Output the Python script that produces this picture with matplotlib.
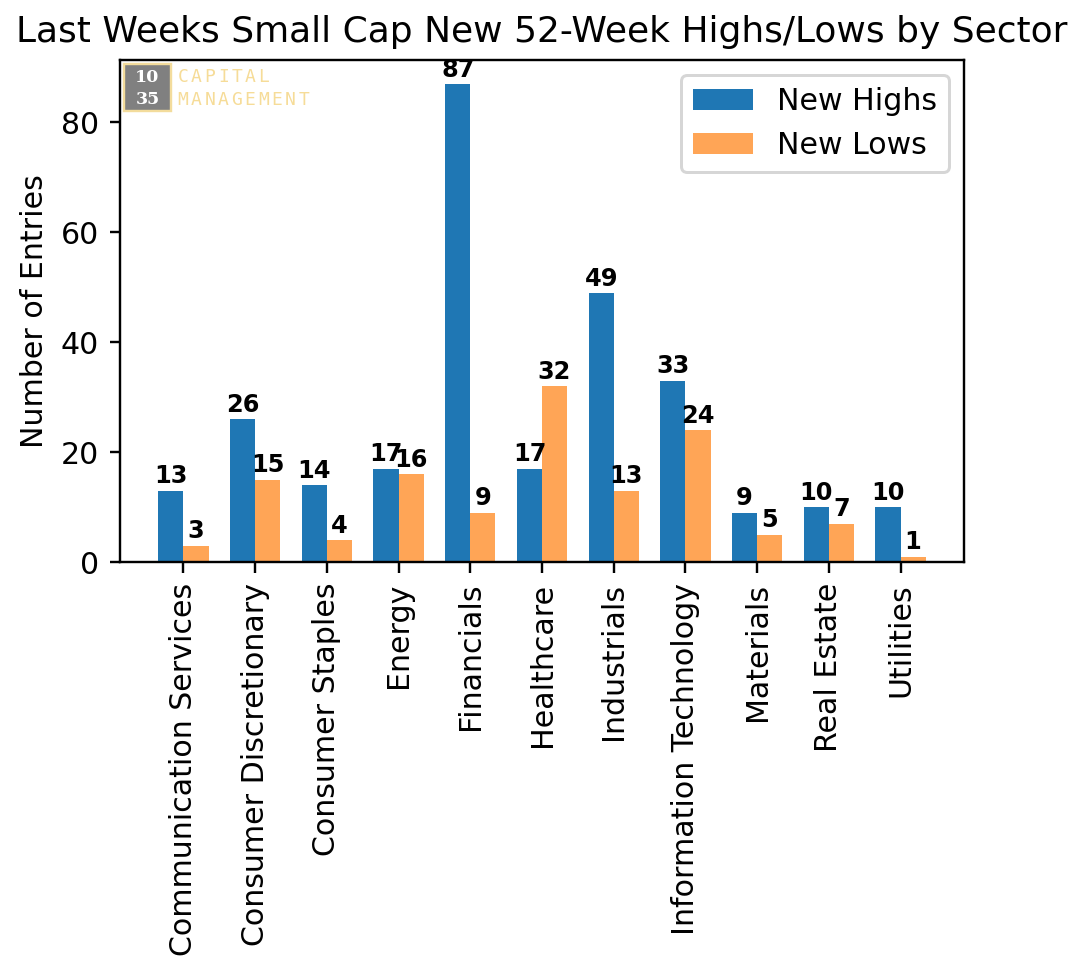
import matplotlib.pyplot as plt
from matplotlib.patches import Rectangle
import numpy as np

sectors = ["Communication Services", "Consumer Discretionary", "Consumer Staples",
           "Energy", "Financials", "Healthcare", "Industrials",
           "Information Technology", "Materials", "Real Estate", "Utilities"]
new_highs = [13, 26, 14, 17, 87, 17, 49, 33, 9, 10, 10]
new_lows = [3, 15, 4, 16, 9, 32, 13, 24, 5, 7, 1]

DPI = 216
W, H = 1082.0, 960.0


def add_logo(fig):
    """Draw the small 1035 Capital Management mark in the top-left of the axes."""
    box = Rectangle((124 / W, 1 - 111 / H), 47 / W, 47 / H, transform=fig.transFigure,
                    facecolor="#808080", edgecolor="#f3dc9c", linewidth=0.8, zorder=5)
    fig.patches.append(box)
    for txt, y in [("10", 77), ("35", 99)]:
        fig.text(147.5 / W, 1 - y / H, txt, color="white", fontsize=5.8, fontweight="bold",
                 family="DejaVu Serif", ha="center", va="center", zorder=6)
    for word, y in [("CAPITAL", 77), ("MANAGEMENT", 100)]:
        for i, ch in enumerate(word):
            fig.text((183 + i * 13.4) / W, 1 - y / H, ch, color="#f6dc98", fontsize=6,
                     family="DejaVu Sans Mono", ha="center", va="center", zorder=6)


def main():
    fig = plt.figure(figsize=(W / DPI, H / DPI), dpi=DPI)
    ax = fig.add_axes([120 / W, 398 / H, 844 / W, 502 / H])

    x = np.arange(len(sectors))
    w = 0.35
    b1 = ax.bar(x - w / 2, new_highs, w, label="New Highs", color="#1f77b4")
    b2 = ax.bar(x + w / 2, new_lows, w, label="New Lows", color="#ff7f0e", alpha=0.7)

    # value labels on top of each bar
    for bars in (b1, b2):
        for bar in bars:
            h = bar.get_height()
            ax.text(bar.get_x() + bar.get_width() / 2, h + 0.4, f"{int(h)}",
                    ha="center", va="bottom", fontsize=8, fontweight="bold")

    ax.set_xticks(x)
    ax.set_xticklabels(sectors, rotation=90)
    ax.set_ylabel("Number of Entries")
    ax.set_title("Last Weeks Small Cap New 52-Week Highs/Lows by Sector", fontsize=12)
    ax.legend(fontsize=10, loc="upper right")

    add_logo(fig)
    fig.savefig("out.png", dpi=DPI)


if __name__ == "__main__":
    main()
